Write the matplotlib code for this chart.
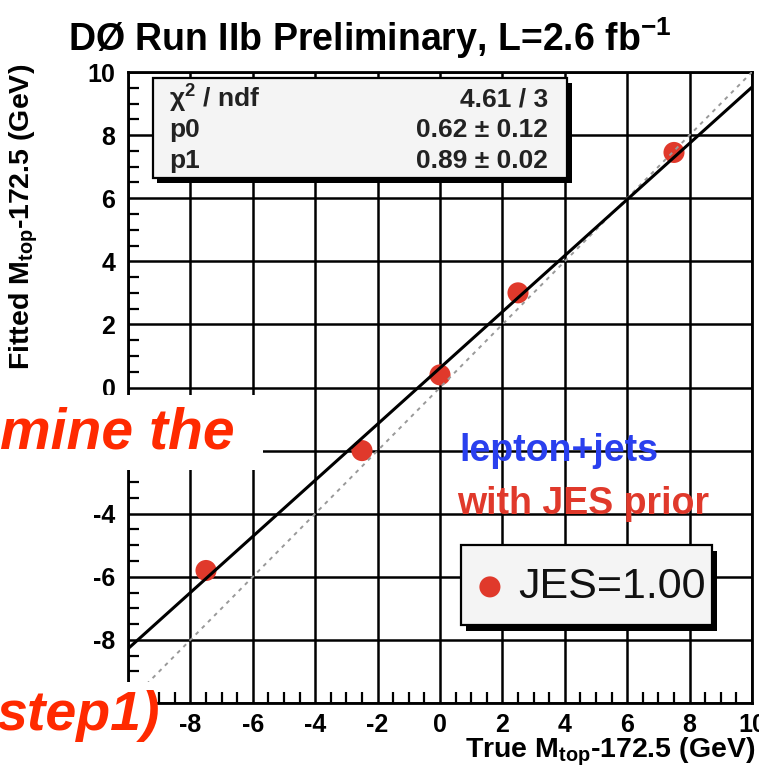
import numpy as np
import matplotlib
matplotlib.use("Agg")
import matplotlib.pyplot as plt
from matplotlib.patches import Rectangle
from matplotlib.ticker import MultipleLocator

plt.rcParams["font.family"] = ["Liberation Sans", "DejaVu Sans"]
plt.rcParams["mathtext.fontset"] = "custom"
plt.rcParams["mathtext.rm"] = "Liberation Sans"
plt.rcParams["mathtext.bf"] = "Liberation Sans:bold"
plt.rcParams["mathtext.it"] = "Liberation Sans:italic"
plt.rcParams["axes.unicode_minus"] = False

# ensemble test: input vs fitted top mass shift
true_mass = [-7.5, -2.5, 0.0, 2.5, 7.5]
fitted_mass = [-5.8, -2.0, 0.4, 3.0, 7.45]

# calibration fit result
p0, p0_err = 0.62, 0.12
p1, p1_err = 0.89, 0.02
chi2, ndf = 4.61, 3

ticks = [-10, -8, -6, -4, -2, 0, 2, 4, 6, 8, 10]

W, H = 759, 771
fig = plt.figure(figsize=(W / 100, H / 100), dpi=100)
ax = fig.add_axes([128 / W, 68 / H, 624 / W, 631 / H])

ax.set_xlim(-10, 10)
ax.set_ylim(-10, 10)
ax.set_xticks(ticks)
ax.set_yticks(ticks)
ax.xaxis.set_minor_locator(MultipleLocator(0.5))
ax.yaxis.set_minor_locator(MultipleLocator(0.5))
ax.grid(True, which="major", color="black", lw=1.8)
ax.tick_params(which="both", direction="in", top=False, right=False, width=1.6)
ax.tick_params(which="major", length=0, labelsize=18)
ax.tick_params(axis="x", which="major", pad=7)
ax.tick_params(axis="y", which="major", pad=9)
ax.tick_params(which="minor", length=8)
for lab in ax.get_xticklabels() + ax.get_yticklabels():
    lab.set_fontweight("bold")
for sp in ax.spines.values():
    sp.set_linewidth(2)

xs = np.linspace(-10, 10, 200)
ax.scatter(true_mass, fitted_mass, s=230, color="#e0392b", edgecolors="none", zorder=3)
ax.plot(xs, xs, color="#999999", lw=1.4, ls=(0, (2, 2.5)), zorder=4)
ax.plot(xs, p0 + p1 * xs, color="black", lw=2.2, zorder=5)

# stats box
ax.add_patch(Rectangle((0.047, 0.824), 0.664, 0.1585, transform=ax.transAxes,
                       facecolor="black", edgecolor="none", zorder=6))
ax.add_patch(Rectangle((0.040, 0.832), 0.664, 0.1585, transform=ax.transAxes,
                       facecolor="#f4f4f4", edgecolor="black", lw=1.6, zorder=7))
rows = [("χ$^{\\mathbf{2}}$ / ndf", f"{chi2:.2f} / {ndf}"),
        ("p0", f"{p0:.2f} ± {p0_err:.2f}"),
        ("p1", f"{p1:.2f} ± {p1_err:.2f}")]
for i, (name, val) in enumerate(rows):
    y = 0.957 - i * 0.049
    ax.text(0.066, y, name, transform=ax.transAxes, fontsize=19, fontweight="bold",
            va="center", ha="left", color="#222222", zorder=8)
    ax.text(0.673, y, val, transform=ax.transAxes, fontsize=19, fontweight="bold",
            va="center", ha="right", color="#222222", zorder=8)

# legend box
ax.add_patch(Rectangle((0.542, 0.114), 0.402, 0.127, transform=ax.transAxes,
                       facecolor="black", edgecolor="none", zorder=6))
ax.add_patch(Rectangle((0.534, 0.124), 0.402, 0.127, transform=ax.transAxes,
                       facecolor="#f4f4f4", edgecolor="black", lw=1.6, zorder=7))
ax.scatter([0.580], [0.184], s=230, color="#e0392b", edgecolors="none",
           transform=ax.transAxes, zorder=8)
ax.text(0.625, 0.184, "JES=1.00", transform=ax.transAxes, fontsize=31,
        va="center", ha="left", color="#111111", zorder=8)

ax.text(0.531, 0.400, "lepton+jets", transform=ax.transAxes, fontsize=27,
        fontweight="bold", color="#2a40ee", va="center", ha="left", zorder=8)
ax.text(0.528, 0.316, "with JES prior", transform=ax.transAxes, fontsize=27,
        fontweight="bold", color="#e0392b", va="center", ha="left", zorder=8)

fig.text(370 / W, 1 - 38 / H, r"DØ Run IIb Preliminary, L=2.6 fb$^{\mathbf{-1}}$",
         fontsize=27, fontweight="bold", ha="center", va="center")
fig.text(24 / W, 1 - 64 / H, r"Fitted M$_{\mathbf{top}}$-172.5 (GeV)",
         fontsize=20.5, fontweight="bold", rotation=90, ha="center", va="top")
fig.text(755 / W, 1 - 757 / H, r"True M$_{\mathbf{top}}$-172.5 (GeV)",
         fontsize=20.5, fontweight="bold", ha="right", va="baseline")

# slide text laid over the figure
fig.patches.append(Rectangle((0, 1 - 470 / H), 263 / W, 75 / H,
                             transform=fig.transFigure, facecolor="white",
                             edgecolor="none", zorder=10))
fig.patches.append(Rectangle((0, 0), 152 / W, (H - 682) / H,
                             transform=fig.transFigure, facecolor="white",
                             edgecolor="none", zorder=10))
fig.text(0 / W, 1 - 448 / H, "mine the", fontsize=41, fontweight="bold",
         fontstyle="italic", color="#ff2a00", ha="left", va="baseline", zorder=11)
fig.text(-4 / W, 1 - 730 / H, "step1)", fontsize=40, fontweight="bold",
         fontstyle="italic", color="#ff2a00", ha="left", va="baseline", zorder=11)

fig.savefig("out.png", dpi=100)
